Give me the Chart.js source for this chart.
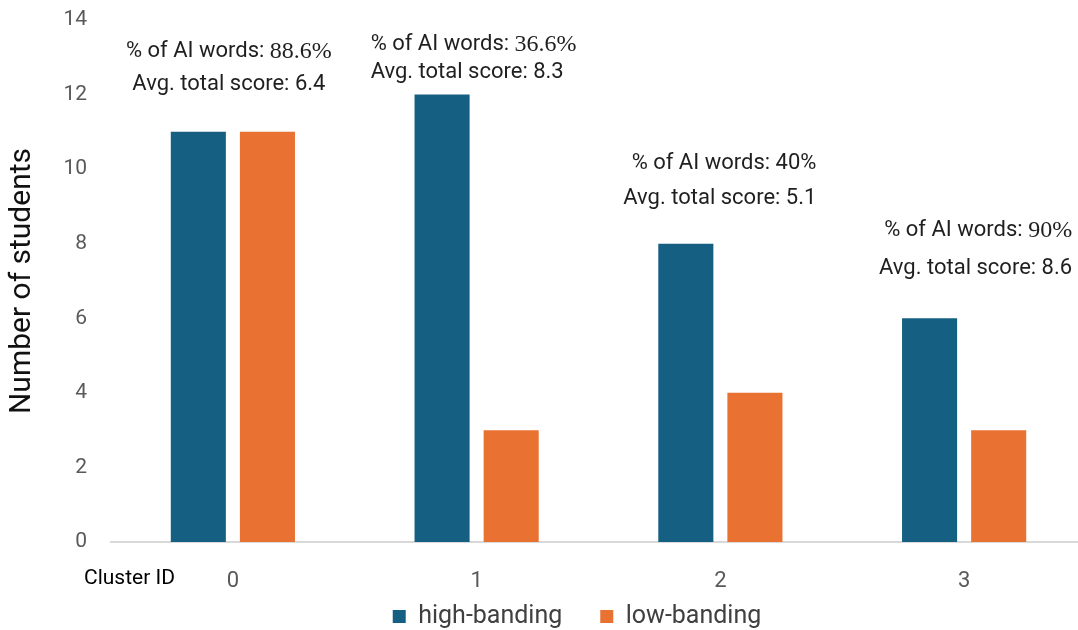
<!DOCTYPE html>
<html>
<head>
<meta charset="utf-8">
<script src="https://cdn.jsdelivr.net/npm/chart.js@4.4.1/dist/chart.umd.min.js"></script>
<style>
  html, body { margin: 0; padding: 0; background: #fff; overflow: hidden; }
  #wrap { position: absolute; left: 0; top: 0; width: 1086px; height: 630px; }
</style>
</head>
<body>
<div id="wrap"><canvas id="myChart" width="1086" height="630"></canvas></div>
<script>
// chart values
const clusters = ['0', '1', '2', '3'];
const highBanding = [11, 12, 8, 6];
const lowBanding = [11, 3, 4, 3];
const aiWordsPct = ['88.6%', '36.6%', '40%', '90%'];
const avgScores = ['6.4', '8.3', '5.1', '8.6'];
const serifPct = [true, true, false, true];

// where each note sits: px offset from the category centre, y in data units
const notePlacement = [
  { align: 'center', dx: -4, y1: 13.15, y2: 12.28 },
  { align: 'left', dx: -106, y1: 13.33, y2: 12.6 },
  { align: 'right', dx: 96, y1: 10.16, y2: 9.22 },
  { align: 'right', dx: 108, y1: 8.36, y2: 7.34 }
];

const sans = 'Roboto, "Liberation Sans", sans-serif';
const serif = '"Liberation Serif", "DejaVu Serif", serif';

const notesPlugin = {
  id: 'notes',
  afterLayout(chart) {
    // legend sits a bit right of the canvas centre in the original
    const lg = chart.legend;
    if (lg) { lg.left += 34; lg.right += 34; }
  },
  afterDraw(chart) {
    const ctx = chart.ctx;
    const xs = chart.scales.x;
    const ys = chart.scales.y;
    ctx.save();
    ctx.fillStyle = '#1f1f1f';
    ctx.textBaseline = 'middle';
    clusters.forEach((c, i) => {
      const p = notePlacement[i];
      const cx = xs.getPixelForValue(i) + p.dx;
      // line 1: sans prefix + number (serif for some)
      const pre = '% of AI words: ';
      ctx.font = '22px ' + sans;
      const wPre = ctx.measureText(pre).width;
      const numFont = (serifPct[i] ? '24px ' + serif : '22px ' + sans);
      ctx.font = numFont;
      const wNum = ctx.measureText(aiWordsPct[i]).width;
      const w1 = wPre + wNum;
      let x1 = cx;
      if (p.align === 'center') x1 = cx - w1 / 2;
      if (p.align === 'right') x1 = cx - w1;
      const yy1 = ys.getPixelForValue(p.y1);
      ctx.textAlign = 'left';
      ctx.font = '22px ' + sans;
      ctx.fillText(pre, x1, yy1);
      ctx.font = numFont;
      ctx.fillText(aiWordsPct[i], x1 + wPre, yy1);
      // line 2
      ctx.font = '22px ' + sans;
      ctx.textAlign = p.align;
      ctx.fillText('Avg. total score: ' + avgScores[i], cx, ys.getPixelForValue(p.y2));
    });
    // axis caption left of the category labels
    ctx.font = '21px ' + sans;
    ctx.fillStyle = '#000';
    ctx.textAlign = 'left';
    ctx.fillText('Cluster ID', 84, xs.top + 37);
    ctx.restore();
  }
};

const ctx = document.getElementById('myChart').getContext('2d');
const myChart = new Chart(ctx, {
  type: 'bar',
  data: {
    labels: clusters,
    datasets: [{
      label: 'high-banding',
      data: highBanding,
      backgroundColor: '#156082'
    }, {
      label: 'low-banding',
      data: lowBanding,
      backgroundColor: '#E97132'
    }]
  },
  options: {
    responsive: false,
    animation: false,
    devicePixelRatio: 1,
    categoryPercentage: 0.567,
    barPercentage: 0.797,
    layout: { padding: { top: 20, right: 0, bottom: -9, left: 0 } },
    plugins: {
      tooltip: { enabled: false },
      legend: {
        position: 'bottom',
        labels: {
          font: { family: sans, size: 25 },
          color: '#404040',
          boxWidth: 13,
          boxHeight: 13,
          padding: 38
        }
      }
    },
    scales: {
      x: {
        grid: { display: false, drawTicks: false },
        border: { display: true, color: '#d9d9d9', width: 2 },
        ticks: { color: '#595959', font: { family: sans, size: 22 }, padding: 26 },
        afterFit(scale) {
          scale.height = 24;
          // labels sit below the (short) axis box, so don't clip them to it
          scale._computeLabelArea = () => undefined;
        }
      },
      y: {
        min: 0,
        max: 14,
        grid: { display: false, drawTicks: false },
        border: { display: false },
        ticks: { stepSize: 2, color: '#595959', font: { family: sans, size: 21 }, padding: 24 },
        title: {
          display: true,
          text: 'Number of students',
          color: '#111',
          font: { family: sans, size: 30 },
          padding: { top: 4, bottom: 0 }
        },
        afterFit(scale) {
          scale.width = 111;
          scale.paddingTop = 0;
          scale.paddingBottom = 0;
        }
      }
    }
  },
  plugins: [notesPlugin]
});
</script>
</body>
</html>
